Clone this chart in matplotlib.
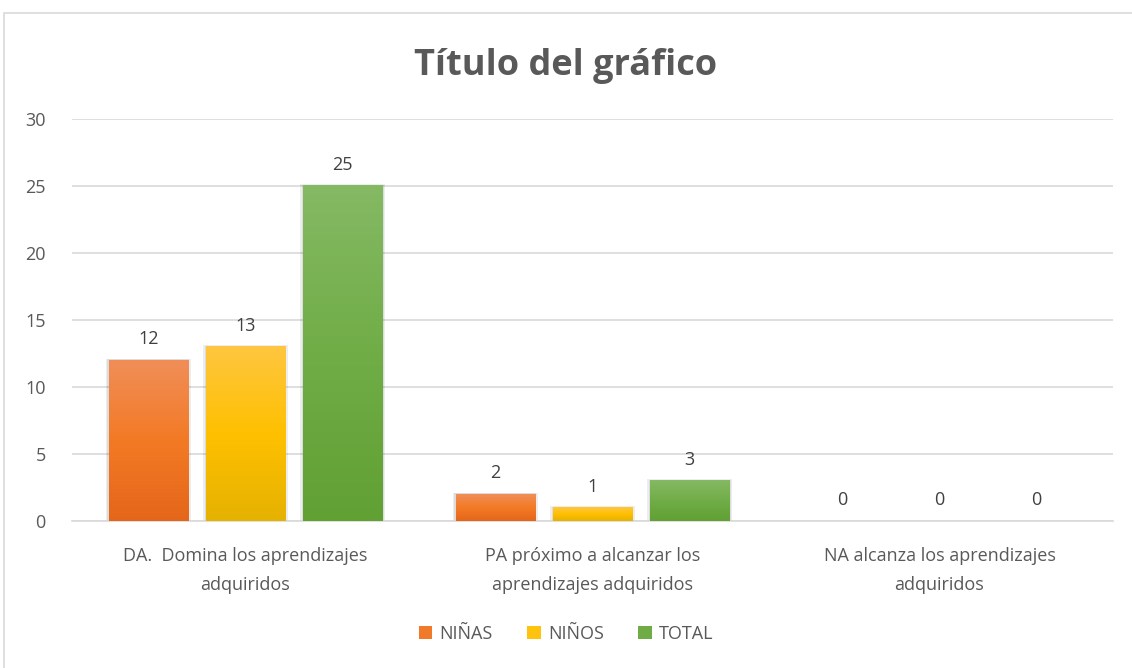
import matplotlib.pyplot as plt
import numpy as np
from matplotlib.colors import LinearSegmentedColormap
from matplotlib.patches import Rectangle, Patch

# Data
categories = ["DA.  Domina los aprendizajes\nadquiridos",
              "PA próximo a alcanzar los\naprendizajes adquiridos",
              "NA alcanza los aprendizajes\nadquiridos"]
series_names = ["NIÑAS", "NIÑOS", "TOTAL"]
ninas = [12, 2, 0]
ninos = [13, 1, 0]
total = [25, 3, 0]
values = [ninas, ninos, total]

# gradient colours (bottom, middle, top) per series
grad_colors = [
    ["#E4661A", "#F37A25", "#F08E58"],
    ["#E5B200", "#FFC000", "#FEC641"],
    ["#61A033", "#70AD47", "#85B964"],
]
legend_colors = ["#F07A2A", "#FFC20E", "#6FAC46"]
text_color = "#595959"
grid_color = "#D9D9D9"

plt.rcParams['font.family'] = ['Open Sans', 'DejaVu Sans']

fig = plt.figure(figsize=(11.32, 6.68), dpi=100)
fig.patches.append(Rectangle((4 / 1132, -0.1), 1.2, 1 - 13 / 668 + 0.1,
                             transform=fig.transFigure, fill=False,
                             edgecolor=grid_color, linewidth=1.2))
ax = fig.add_axes([0.0636, 0.2201, 0.9196, 0.6018])

x = np.arange(len(categories))
bar_w = 0.228
step = 0.28

for i, vals in enumerate(values):
    cmap = LinearSegmentedColormap.from_list("g%d" % i, grad_colors[i])
    xs = x + (i - 1) * step
    for xc, v in zip(xs, vals):
        if v > 0:
            # soft shadow
            ax.add_patch(Rectangle((xc - bar_w / 2 - 0.008, 0), bar_w + 0.016, v + 0.12,
                                   facecolor="#000000", alpha=0.07, linewidth=0, zorder=2))
            ax.add_patch(Rectangle((xc - bar_w / 2 - 0.004, 0), bar_w + 0.008, v + 0.06,
                                   facecolor="#000000", alpha=0.07, linewidth=0, zorder=2))
            grad = np.linspace(0, 1, 256).reshape(-1, 1)
            ax.imshow(grad, cmap=cmap, origin="lower", aspect="auto",
                      extent=[xc - bar_w / 2, xc + bar_w / 2, 0, v], zorder=3)
        ax.text(xc, v + 0.9, str(v), ha="center", va="bottom",
                fontsize=13, color="#404040", zorder=4)

ax.set_xlim(-0.5, len(categories) - 0.5)
ax.set_ylim(0, 30)
ax.set_yticks(range(0, 31, 5))
ax.set_xticks(x)
ax.set_xticklabels(categories, fontsize=13, color=text_color, linespacing=1.75)
ax.tick_params(axis="y", length=0, pad=19, labelsize=13, labelcolor=text_color)
ax.tick_params(axis="x", length=0, pad=19)
ax.grid(axis="y", color=grid_color, linewidth=1.2)
ax.set_axisbelow(True)
for s in ["top", "right", "left"]:
    ax.spines[s].set_visible(False)
ax.spines["bottom"].set_color(grid_color)
ax.spines["bottom"].set_linewidth(1.2)

fig.text(0.5, 1 - 66 / 668, "Título del gráfico", ha="center", va="center",
         fontsize=26, fontweight="bold", color=text_color)

handles = [Patch(facecolor=c, edgecolor="none") for c in legend_colors]
fig.legend(handles, series_names, loc="center", bbox_to_anchor=(0.5, 1 - 634 / 668),
           ncol=3, frameon=False, fontsize=13, labelcolor=text_color,
           handlelength=0.75, handleheight=0.75, handletextpad=0.4, columnspacing=1.9)

fig.savefig("out.png", dpi=100)
